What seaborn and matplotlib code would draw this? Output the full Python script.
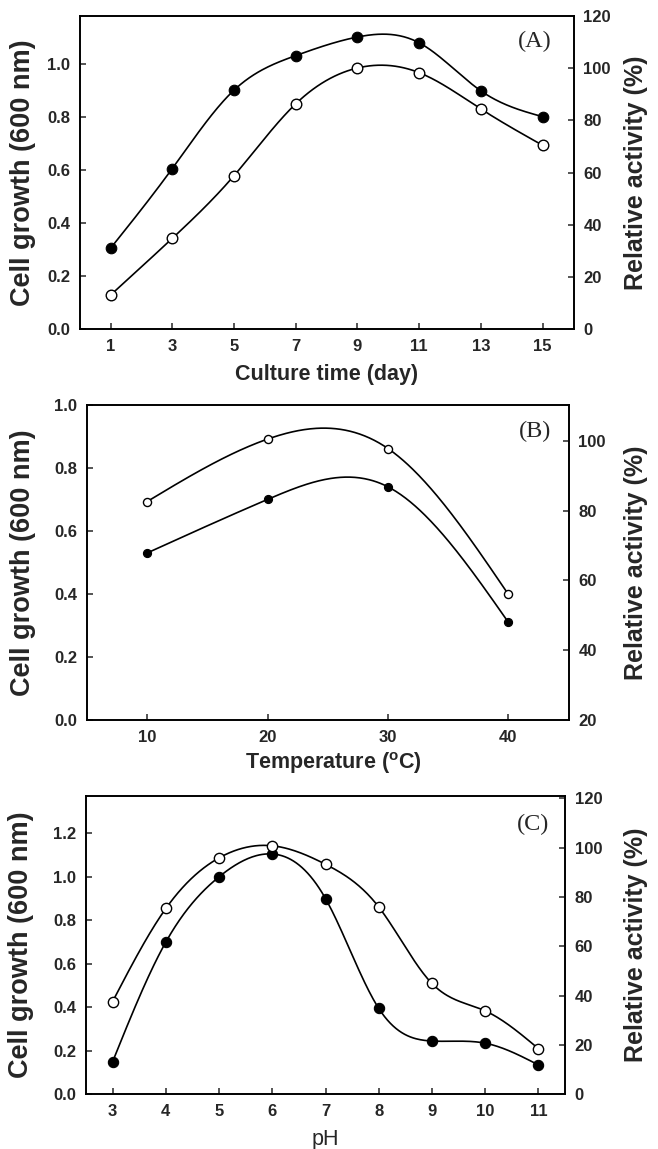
import numpy as np
import matplotlib
matplotlib.use("Agg")
import matplotlib.pyplot as plt
import seaborn as sns
from matplotlib.ticker import FormatStrFormatter, FixedLocator

# ---------------- data ----------------
day = [1, 3, 5, 7, 9, 11, 13, 15]
growth_day = [0.305, 0.605, 0.90, 1.03, 1.10, 1.078, 0.897, 0.80]
activity_day = [13.1, 34.8, 58.8, 86.3, 100.0, 98.2, 84.3, 70.4]

temp = [10, 20, 30, 40]
growth_temp = [0.53, 0.70, 0.74, 0.31]
activity_temp = [82.6, 100.5, 97.8, 56.0]

ph = [3, 4, 5, 6, 7, 8, 9, 10, 11]
growth_ph = [0.15, 0.70, 1.00, 1.105, 0.90, 0.395, 0.245, 0.235, 0.135]
activity_ph = [37.6, 75.3, 95.8, 100.7, 93.2, 75.9, 44.9, 33.8, 18.5]

# ---------------- style ----------------
sns.set_style("ticks")
plt.rcParams["font.family"] = ["Liberation Sans", "DejaVu Sans"]
plt.rcParams["font.weight"] = "bold"
plt.rcParams["mathtext.fontset"] = "custom"
plt.rcParams["mathtext.rm"] = "Liberation Sans:bold"
plt.rcParams["mathtext.bf"] = "Liberation Sans:bold"
plt.rcParams["axes.linewidth"] = 1.2


def natural_spline(x, y, n=300):
    x = np.asarray(x, float)
    y = np.asarray(y, float)
    h = np.diff(x)
    m = len(x)
    M = np.zeros(m)
    if m > 2:
        A = np.zeros((m - 2, m - 2))
        r = np.zeros(m - 2)
        for i in range(1, m - 1):
            A[i - 1, i - 1] = 2 * (h[i - 1] + h[i])
            if i - 2 >= 0:
                A[i - 1, i - 2] = h[i - 1]
            if i < m - 2:
                A[i - 1, i] = h[i]
            r[i - 1] = 6 * ((y[i + 1] - y[i]) / h[i] - (y[i] - y[i - 1]) / h[i - 1])
        M[1:-1] = np.linalg.solve(A, r)
    t = np.linspace(x[0], x[-1], n)
    idx = np.clip(np.searchsorted(x, t) - 1, 0, m - 2)
    x0, x1 = x[idx], x[idx + 1]
    hh = x1 - x0
    s = (M[idx] * (x1 - t) ** 3 / (6 * hh) + M[idx + 1] * (t - x0) ** 3 / (6 * hh)
         + (y[idx] / hh - M[idx] * hh / 6) * (x1 - t)
         + (y[idx + 1] / hh - M[idx + 1] * hh / 6) * (t - x0))
    return t, s


fig = plt.figure(figsize=(6.58, 11.49), dpi=100)

panels = [
    dict(rect=[0.1211, 0.7134, 0.7506, 0.2729], x=day, g=growth_day, a=activity_day,
         xlim=(0, 16), xticks=day, ylim=(0, 1.18), yticks=[0, 0.2, 0.4, 0.6, 0.8, 1.0],
         rlim=(0, 120), rticks=[0, 20, 40, 60, 80, 100, 120],
         xlabel="Culture time (day)", xw="bold", letter="(A)", s=58,
         lpos=(-0.1148, 0.5), rpos=(1.1263, 0.5), xpos=(0.5, -0.1457), letpos=(0.922, 0.917)),
    dict(rect=[0.1321, 0.3734, 0.7320, 0.2742], x=temp, g=growth_temp, a=activity_temp,
         xlim=(5, 45), xticks=temp, ylim=(0, 1.0), yticks=[0, 0.2, 0.4, 0.6, 0.8, 1.0],
         rlim=(20, 110.3), rticks=[20, 40, 60, 80, 100],
         xlabel=r"Temperature ($^{\mathrm{o}}$C)", xw="bold", letter="(B)", s=34,
         lpos=(-0.1327, 0.5), rpos=(1.14, 0.5), xpos=(0.512, -0.1365), letpos=(0.930, 0.915)),
    dict(rect=[0.1307, 0.0476, 0.7280, 0.2599], x=ph, g=growth_ph, a=activity_ph,
         xlim=(2.5, 11.5), xticks=ph, ylim=(0, 1.373), yticks=[0, 0.2, 0.4, 0.6, 0.8, 1.0, 1.2],
         rlim=(0, 121), rticks=[0, 20, 40, 60, 80, 100, 120],
         xlabel="pH", xw="normal", letter="(C)", s=55,
         lpos=(-0.1357, 0.5), rpos=(1.148, 0.5), xpos=(0.5, -0.153), letpos=(0.933, 0.902)),
]

for p in panels:
    ax = fig.add_axes(p["rect"])
    ax2 = ax.twinx()

    tx, ty = natural_spline(p["x"], p["g"])
    sns.lineplot(x=tx, y=ty, ax=ax, color="black", lw=1.2, estimator=None, sort=False)
    sns.scatterplot(x=p["x"], y=p["g"], ax=ax, s=p["s"], color="black",
                    edgecolor="black", linewidth=0.8, zorder=5)

    tx2, ty2 = natural_spline(p["x"], p["a"])
    sns.lineplot(x=tx2, y=ty2, ax=ax2, color="black", lw=1.2, estimator=None, sort=False)
    sns.scatterplot(x=p["x"], y=p["a"], ax=ax2, s=p["s"], color="white",
                    edgecolor="black", linewidth=1.0, zorder=5)

    ax.set_xlim(*p["xlim"])
    ax.set_ylim(*p["ylim"])
    ax2.set_ylim(*p["rlim"])
    ax.xaxis.set_major_locator(FixedLocator(p["xticks"]))
    ax.yaxis.set_major_locator(FixedLocator(p["yticks"]))
    ax2.yaxis.set_major_locator(FixedLocator(p["rticks"]))
    ax.yaxis.set_major_formatter(FormatStrFormatter("%.1f"))
    ax2.yaxis.set_major_formatter(FormatStrFormatter("%d"))

    ax.tick_params(axis="both", direction="in", length=4, width=1.1, labelsize=12, pad=7)
    ax2.tick_params(axis="y", direction="in", length=4, width=1.1, labelsize=12, pad=7)
    for sp in list(ax.spines.values()) + list(ax2.spines.values()):
        sp.set_visible(True)
        sp.set_linewidth(1.2)
        sp.set_color("black")

    ax.set_ylabel("Cell growth (600 nm)", fontsize=19.5, fontweight="bold")
    ax.yaxis.set_label_coords(*p["lpos"])
    ax.yaxis.label.set_verticalalignment("center")
    ax2.set_ylabel("Relative activity (%)", fontsize=18, fontweight="bold", rotation=90)
    ax2.yaxis.set_label_coords(*p["rpos"])
    ax2.yaxis.label.set_verticalalignment("center")
    ax.set_xlabel(p["xlabel"], fontsize=15.5, fontweight=p["xw"])
    ax.xaxis.set_label_coords(*p["xpos"])
    ax.xaxis.label.set_verticalalignment("center")

    ax2.text(p["letpos"][0], p["letpos"][1], p["letter"], transform=ax2.transAxes,
             ha="center", va="center", fontsize=17.5, fontweight="normal",
             family=["Liberation Serif", "DejaVu Serif"])

fig.savefig("out.png", dpi=100, facecolor="white")
